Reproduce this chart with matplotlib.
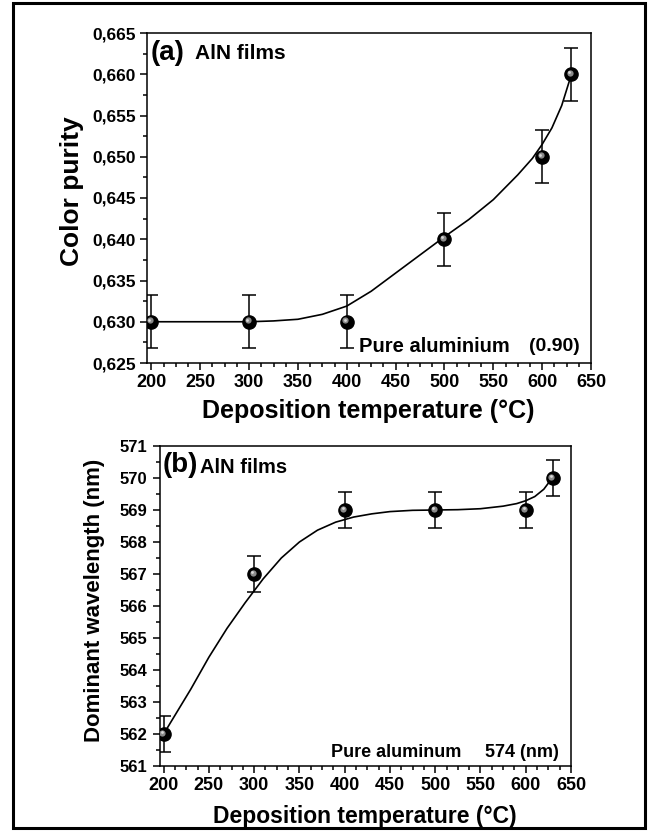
import numpy as np
import matplotlib
matplotlib.use('Agg')
import matplotlib.pyplot as plt
from matplotlib.ticker import MultipleLocator, FormatStrFormatter, FuncFormatter
from matplotlib.patches import Rectangle
from matplotlib.transforms import ScaledTranslation

plt.rcParams['font.family'] = ['Liberation Sans', 'DejaVu Sans']
plt.rcParams['font.weight'] = 'bold'

# measured points
temp = [200, 300, 400, 500, 600, 630]
purity = [0.630, 0.630, 0.630, 0.640, 0.650, 0.660]
purity_err = [0.0032, 0.0032, 0.0032, 0.0032, 0.0032, 0.0032]
wavelength = [562, 567, 569, 569, 569, 570]
wavelength_err = [0.57, 0.57, 0.57, 0.57, 0.57, 0.57]

# fitted curves
fit_a_x = [200, 250, 300, 325, 350, 375, 400, 425, 450, 475, 500, 525, 550, 575, 590,
           600, 610, 620, 630]
fit_a_y = [0.6300, 0.6300, 0.6300, 0.6301, 0.6303, 0.6309, 0.6319, 0.6337, 0.6359, 0.6381,
           0.6403, 0.6424, 0.6448, 0.6478, 0.6498, 0.6515, 0.6535, 0.6562, 0.6600]
fit_b_x = [200, 215, 230, 250, 270, 290, 310, 330, 350, 370, 390, 410, 430, 450, 475, 500,
           525, 550, 575, 590, 600, 610, 620, 630]
fit_b_y = [562.0, 562.7, 563.4, 564.4, 565.3, 566.1, 566.85, 567.5, 568.0, 568.37, 568.62,
           568.78, 568.88, 568.95, 568.99, 569.0, 569.01, 569.04, 569.12, 569.2, 569.29,
           569.42, 569.65, 570.03]


def balls(ax, fig, x, y, err):
    ax.errorbar(x, y, yerr=err, fmt='none', ecolor='black', elinewidth=1.1,
                capsize=5, capthick=1.1, zorder=3)
    ax.plot(x, y, 'o', color='black', ms=9.5, zorder=4)
    off = ax.transData + ScaledTranslation(-1.5 / 100, 1.5 / 100, fig.dpi_scale_trans)
    ax.plot(x, y, 'o', color='#8a8a8a', ms=4.5, mew=0, transform=off, zorder=5)
    off2 = ax.transData + ScaledTranslation(-2 / 100, 2 / 100, fig.dpi_scale_trans)
    ax.plot(x, y, 'o', color='#d8d8d8', ms=2, mew=0, transform=off2, zorder=6)


def style(ax, xsize, ysize, ypad):
    for s in ax.spines.values():
        s.set_linewidth(1.1)
    ax.xaxis.set_major_locator(MultipleLocator(50))
    ax.xaxis.set_minor_locator(MultipleLocator(12.5))
    ax.tick_params(which='both', direction='out', top=False, right=False, width=1.1)
    ax.tick_params(which='major', length=5)
    ax.tick_params(which='minor', length=3)
    ax.tick_params(axis='x', labelsize=xsize, pad=3)
    ax.tick_params(axis='y', labelsize=ysize, pad=ypad)


fig = plt.figure(figsize=(6.54, 8.31), dpi=100)

# ---- panel (a)
ax1 = fig.add_axes([147 / 654, 1 - 363 / 831, 444 / 654, 330 / 831])
ax1.plot(fit_a_x, fit_a_y, color='black', lw=1.2, zorder=2)
balls(ax1, fig, temp, purity, purity_err)
ax1.set_xlim(195.5, 650)
ax1.set_ylim(0.625, 0.665)
style(ax1, 13, 12.5, 3)
ax1.yaxis.set_major_locator(MultipleLocator(0.005))
ax1.yaxis.set_minor_locator(MultipleLocator(0.0025))
ax1.yaxis.set_major_formatter(FuncFormatter(lambda v, p: ('%.3f' % v).replace('.', ',')))
ax1.set_ylabel('Color purity', fontsize=19, fontweight='bold')
ax1.yaxis.set_label_coords(-0.142, 0.52)
ax1.set_xlabel('Deposition temperature (°C)', fontsize=18, fontweight='bold', va='top')
ax1.xaxis.set_label_coords(0.498, -0.109)
ax1.text(0.009, 0.94, '(a)', transform=ax1.transAxes, fontsize=20, fontweight='bold',
         ha='left', va='center')
ax1.text(0.108, 0.937, 'AlN films', transform=ax1.transAxes, fontsize=15,
         fontweight='bold', ha='left', va='center')
ax1.text(0.477, 0.049, 'Pure aluminium', transform=ax1.transAxes, fontsize=14.5,
         fontweight='bold', ha='left', va='center')
ax1.text(0.975, 0.049, '(0.90)', transform=ax1.transAxes, fontsize=14,
         fontweight='bold', ha='right', va='center')

# ---- panel (b)
ax2 = fig.add_axes([160 / 654, 1 - 766 / 831, 411 / 654, 320 / 831])
ax2.plot(fit_b_x, fit_b_y, color='black', lw=1.2, zorder=2)
balls(ax2, fig, temp, wavelength, wavelength_err)
ax2.set_xlim(196, 650)
ax2.set_ylim(561, 571)
style(ax2, 13, 12, 4)
ax2.yaxis.set_major_locator(MultipleLocator(1))
ax2.yaxis.set_minor_locator(MultipleLocator(0.5))
ax2.yaxis.set_major_formatter(FormatStrFormatter('%d'))
ax2.set_ylabel('Dominant wavelength (nm)', fontsize=16, fontweight='bold')
ax2.yaxis.set_label_coords(-0.135, 0.519)
ax2.set_xlabel('Deposition temperature (°C)', fontsize=16.5, fontweight='bold', va='top')
ax2.xaxis.set_label_coords(0.499, -0.122)
ax2.text(0.007, 0.94, '(b)', transform=ax2.transAxes, fontsize=20, fontweight='bold',
         ha='left', va='center')
ax2.text(0.097, 0.932, 'AlN films', transform=ax2.transAxes, fontsize=14.5,
         fontweight='bold', ha='left', va='center')
ax2.text(0.415, 0.041, 'Pure aluminum', transform=ax2.transAxes, fontsize=13,
         fontweight='bold', ha='left', va='center')
ax2.text(0.970, 0.041, '574 (nm)', transform=ax2.transAxes, fontsize=13,
         fontweight='bold', ha='right', va='center')

# outer frame
fig.add_artist(Rectangle((12.5 / 654, 3 / 831), 632 / 654, 825 / 831,
                         transform=fig.transFigure, fill=False, lw=2.2, ec='black'))

fig.savefig('out.png', dpi=100)
